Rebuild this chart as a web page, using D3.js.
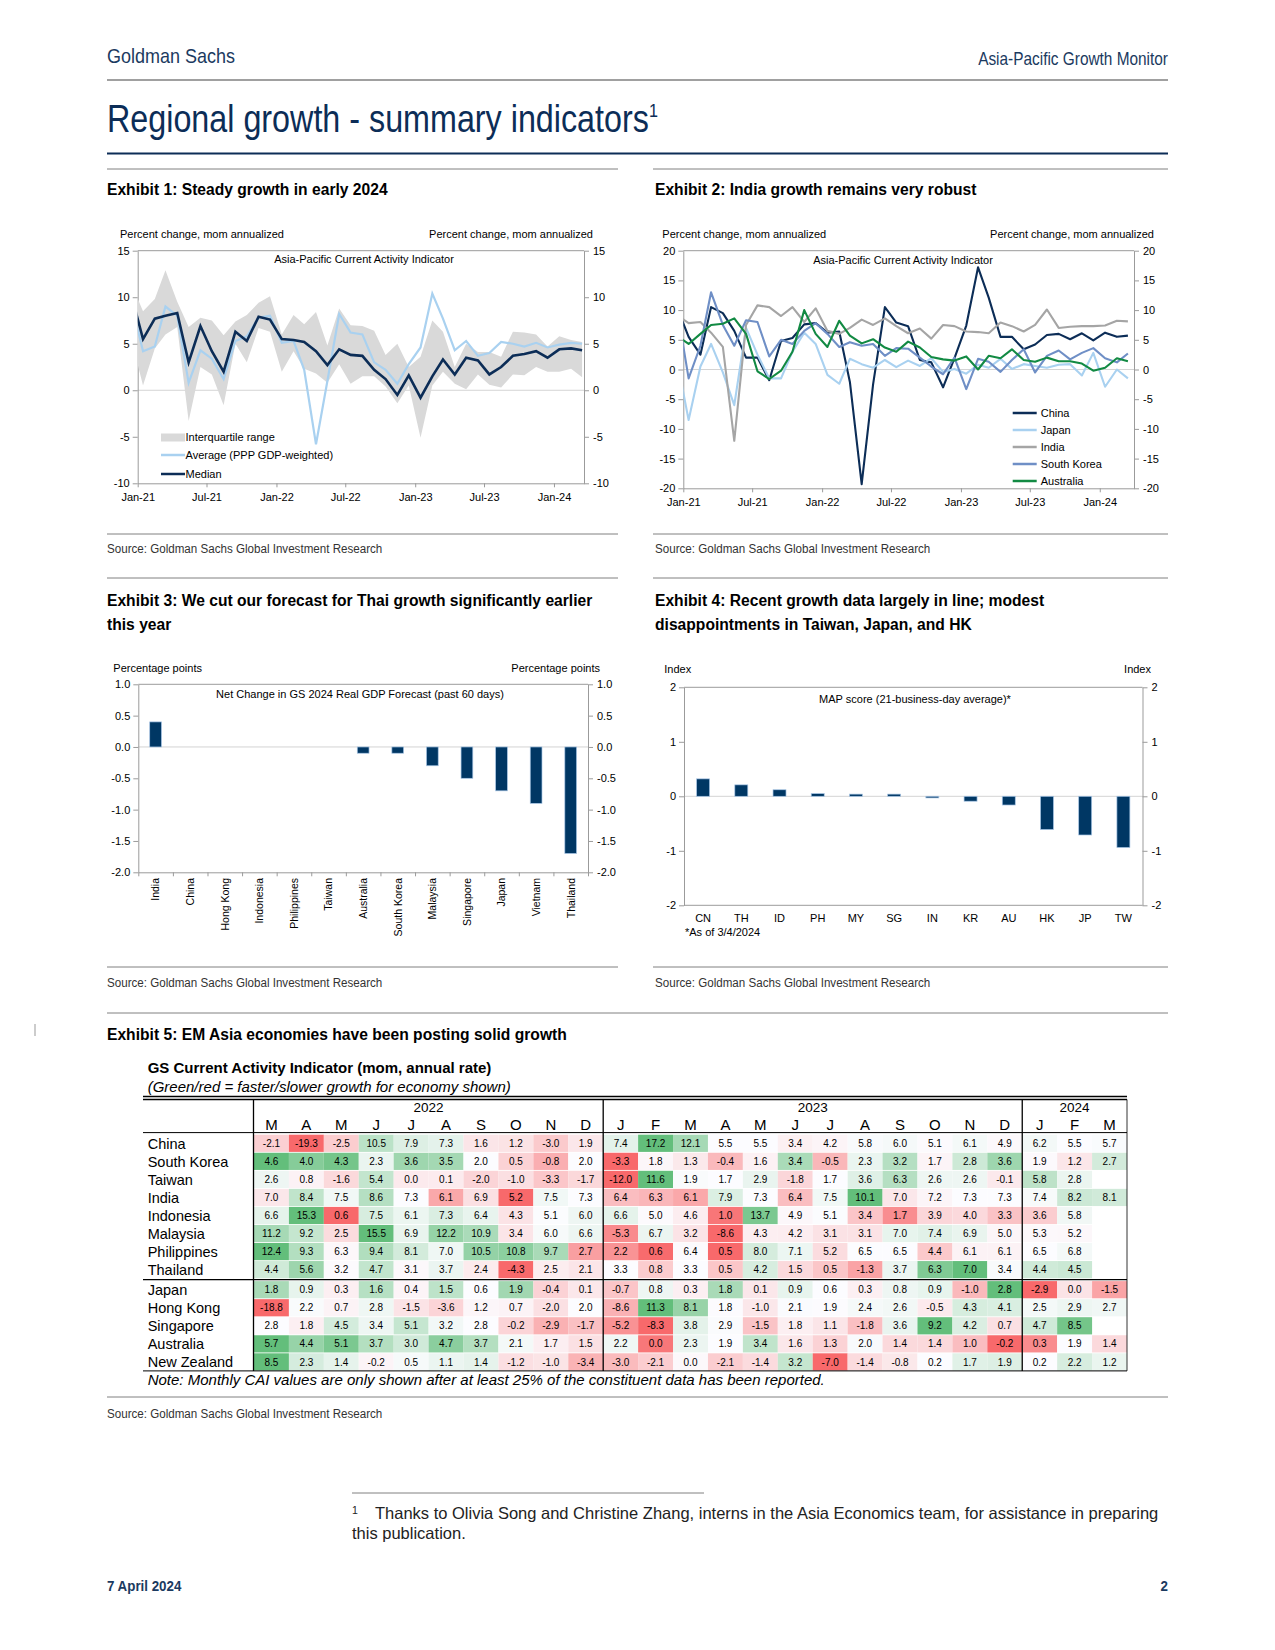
<!DOCTYPE html>
<html>
<head>
<meta charset="utf-8">
<title>Asia-Pacific Growth Monitor</title>
<script src="https://cdnjs.cloudflare.com/ajax/libs/d3/7.8.5/d3.min.js"></script>
<style>
  body { margin: 0; background: #fff; }
  svg text { font-family: "Liberation Sans", Arial, sans-serif; }
  .axis path, .axis line { stroke: #9b9b9b; }
  .axis text { font-size: 11px; fill: #000; }
</style>
</head>
<body>
<svg id="page" width="1275" height="1650"></svg>
<script>
// Exhibit 1 - Asia-Pacific CAI (Dec-20 .. Mar-24; Dec-20 only feeds the clipped first segment)
const caiDates = d3.timeMonth.range(new Date(2020, 11, 1), new Date(2024, 3, 1)).map(d => d3.timeDay.offset(d, 14));
const apMedian = [10.3, 5.5, 7.7, 8.0, 8.3, 3.0, 6.9, 4.2, 2.0, 6.3, 5.3, 7.9, 7.6, 5.5, 5.4, 5.2, 4.2, 2.7, 4.4, 3.8, 3.7,
  2.2, 1.2, -0.5, 1.6, -0.8, 1.5, 3.3, 1.7, 3.5, 3.2, 1.7, 2.5, 3.7, 3.9, 4.2, 3.5, 4.4, 4.5, 4.3];
const apAverage = [9.4, 4.2, 4.7, 9.0, 8.0, 0.8, 4.3, 3.4, 1.2, 5.3, 5.8, 7.8, 8.0, 5.1, 5.3, 2.2, -5.8, 1.0, 8.2, 6.2, 6.0,
  3.0, 2.2, 0.7, 2.8, 4.6, 10.4, 7.7, 4.3, 5.3, 3.7, 4.0, 5.2, 5.0, 4.7, 5.1, 4.6, 4.9, 5.1, 5.0];
const apIqrHigh = [11.5, 8.5, 9.8, 12.9, 9.5, 6.8, 7.8, 7.5, 5.9, 7.4, 8.1, 9.4, 10.1, 6.0, 8.1, 7.1, 8.4, 4.8, 8.8, 7.0, 6.9,
  6.4, 3.8, 5.0, 2.5, 3.6, 7.5, 6.3, 2.5, 5.0, 4.1, 4.1, 3.6, 6.3, 6.2, 6.0, 4.7, 5.8, 5.4, 5.2];
const apIqrLow = [5.5, 0.5, 4.5, 6.0, 6.8, -3.3, 2.5, 1.7, -1.6, 5.0, 3.0, 6.7, 6.3, 2.0, 4.2, 2.3, 1.8, 0.8, 2.8, 0.7, 1.5,
  1.5, 0.4, -1.4, 0.5, -5.1, 0.5, 2.0, 0.7, 0.1, 1.7, 0.6, 0.3, 1.7, 1.6, 2.5, 2.0, 2.0, 2.3, 1.4];

// Exhibit 5 - CAI table, Mar-22 .. Mar-24
const caiCountries = ['China', 'South Korea', 'Taiwan', 'India', 'Indonesia', 'Malaysia', 'Philippines', 'Thailand',
  'Japan', 'Hong Kong', 'Singapore', 'Australia', 'New Zealand'];
const caiMonths = ['M', 'A', 'M', 'J', 'J', 'A', 'S', 'O', 'N', 'D', 'J', 'F', 'M', 'A', 'M', 'J', 'J', 'A', 'S', 'O', 'N', 'D', 'J', 'F', 'M'];
const caiYears = ['2022', '2023', '2024'];
const caiYearMonths = [10, 12, 3];
const caiTable = [
  [-2.1, -19.3, -2.5, 10.5, 7.9, 7.3, 1.6, 1.2, -3.0, 1.9, 7.4, 17.2, 12.1, 5.5, 5.5, 3.4, 4.2, 5.8, 6.0, 5.1, 6.1, 4.9, 6.2, 5.5, 5.7],
  [4.6, 4.0, 4.3, 2.3, 3.6, 3.5, 2.0, 0.5, -0.8, 2.0, -3.3, 1.8, 1.3, -0.4, 1.6, 3.4, -0.5, 2.3, 3.2, 1.7, 2.8, 3.6, 1.9, 1.2, 2.7],
  [2.6, 0.8, -1.6, 5.4, 0.0, 0.1, -2.0, -1.0, -3.3, -1.7, -12.0, 11.6, 1.9, 1.7, 2.9, -1.8, 1.7, 3.6, 6.3, 2.6, 2.6, -0.1, 5.8, 2.8, null],
  [7.0, 8.4, 7.5, 8.6, 7.3, 6.1, 6.9, 5.2, 7.5, 7.3, 6.4, 6.3, 6.1, 7.9, 7.3, 6.4, 7.5, 10.1, 7.0, 7.2, 7.3, 7.3, 7.4, 8.2, 8.1],
  [6.6, 15.3, 0.6, 7.5, 6.1, 7.3, 6.4, 4.3, 5.1, 6.0, 6.6, 5.0, 4.6, 1.0, 13.7, 4.9, 5.1, 3.4, 1.7, 3.9, 4.0, 3.3, 3.6, 5.8, null],
  [11.2, 9.2, 2.5, 15.5, 6.9, 12.2, 10.9, 3.4, 6.0, 6.6, -5.3, 6.7, 3.2, -8.6, 4.3, 4.2, 3.1, 3.1, 7.0, 7.4, 6.9, 5.0, 5.3, 5.2, null],
  [12.4, 9.3, 6.3, 9.4, 8.1, 7.0, 10.5, 10.8, 9.7, 2.7, 2.2, 0.6, 6.4, 0.5, 8.0, 7.1, 5.2, 6.5, 6.5, 4.4, 6.1, 6.1, 6.5, 6.8, null],
  [4.4, 5.6, 3.2, 4.7, 3.1, 3.7, 2.4, -4.3, 2.5, 2.1, 3.3, 0.8, 3.3, 0.5, 4.2, 1.5, 0.5, -1.3, 3.7, 6.3, 7.0, 3.4, 4.4, 4.5, null],
  [1.8, 0.9, 0.3, 1.6, 0.4, 1.5, 0.6, 1.9, -0.4, 0.1, -0.7, 0.8, 0.3, 1.8, 0.1, 0.9, 0.6, 0.3, 0.8, 0.9, -1.0, 2.8, -2.9, 0.0, -1.5],
  [-18.8, 2.2, 0.7, 2.8, -1.5, -3.6, 1.2, 0.7, -2.0, 2.0, -8.6, 11.3, 8.1, 1.8, -1.0, 2.1, 1.9, 2.4, 2.6, -0.5, 4.3, 4.1, 2.5, 2.9, 2.7],
  [2.8, 1.8, 4.5, 3.4, 5.1, 3.2, 2.8, -0.2, -2.9, -1.7, -5.2, -8.3, 3.8, 2.9, -1.5, 1.8, 1.1, -1.8, 3.6, 9.2, 4.2, 0.7, 4.7, 8.5, null],
  [5.7, 4.4, 5.1, 3.7, 3.0, 4.7, 3.7, 2.1, 1.7, 1.5, 2.2, 0.0, 2.3, 1.9, 3.4, 1.6, 1.3, 2.0, 1.4, 1.4, 1.0, -0.2, 0.3, 1.9, 1.4],
  [8.5, 2.3, 1.4, -0.2, 0.5, 1.1, 1.4, -1.2, -1.0, -3.4, -3.0, -2.1, 0.0, -2.1, -1.4, 3.2, -7.0, -1.4, -0.8, 0.2, 1.7, 1.9, 0.2, 2.2, 1.2]
];
const caiFirstGroup = 8; // EM Asia rows, then the rest

// Exhibit 2 - country CAIs, Dec-20 .. Feb-22, later months are the table rows
const cnEarly = [10.5, 5.5, 2.5, 10.5, 9.5, 6.5, 2.0, 2.0, -1.8, 4.8, 5.3, 7.6, 7.8, 6.2, 6.4];
const jpEarly = [1.7, -8.5, 0.5, 4.3, -0.5, -6.0, 7.0, 2.5, -1.5, -1.5, 3.0, 6.2, 4.3, -0.9, -2.4];
const inEarly = [9.2, 7.8, 8.0, 6.2, 3.8, -12.0, 7.5, 10.8, 10.5, 9.0, 10.5, 8.0, 10.3, 6.5, 6.0];
const krEarly = [10.5, -1.5, 4.0, 13.0, 7.5, 4.0, 8.3, 8.0, 2.2, 5.0, 4.3, 6.5, 7.8, 6.0, 3.8];
const auEarly = [5.7, 4.3, 6.0, 7.5, 7.7, 8.6, 6.0, -0.3, -1.6, -0.2, 3.0, 10.0, 6.0, 3.8, 8.2];
const ex2Names = ['China', 'Japan', 'India', 'South Korea', 'Australia'];
const ex2Early = [cnEarly, jpEarly, inEarly, krEarly, auEarly];
const ex2Colors = ['#0c2d57', '#a9d1f0', '#a5a5a5', '#6f8fc6', '#128a43'];

// Exhibit 3 - net change in 2024 GDP forecast, pp
const fcstCountries = ['India', 'China', 'Hong Kong', 'Indonesia', 'Philippines', 'Taiwan', 'Australia', 'South Korea',
  'Malaysia', 'Singapore', 'Japan', 'Vietnam', 'Thailand'];
const fcstChange = [0.4, 0, 0, 0, 0, 0, -0.1, -0.1, -0.3, -0.5, -0.7, -0.9, -1.7];

// Exhibit 4 - MAP score
const mapCodes = ['CN', 'TH', 'ID', 'PH', 'MY', 'SG', 'IN', 'KR', 'AU', 'HK', 'JP', 'TW'];
const mapScore = [0.32, 0.21, 0.12, 0.05, 0.04, 0.04, -0.03, -0.09, -0.16, -0.61, -0.71, -0.94];

const svg = d3.select('#page');
const NAVY = '#0c2d57';
const BAR = '#003764';
const RULE = '#808080';
const hy = d3.formatLocale({decimal: '.', thousands: ',', grouping: [3], currency: ['', ''], minus: '-'});

function rule(x1, x2, y, color, w) {
  svg.append('line').attr('x1', x1).attr('x2', x2).attr('y1', y).attr('y2', y)
    .attr('stroke', color || RULE).attr('stroke-width', w || 1);
}
// o.sx squeezes the text horizontally (house style is a condensed face)
function label(x, y, str, size, o = {}) {
  const t = svg.append('text').text(str)
    .attr('font-size', size)
    .attr('text-anchor', o.anchor || 'start')
    .attr('font-weight', o.bold ? 'bold' : null)
    .attr('font-style', o.italic ? 'italic' : null)
    .style('fill', o.fill || '#000');
  if (o.sx) t.attr('transform', `translate(${x},${y}) scale(${o.sx},1)`);
  else t.attr('x', x).attr('y', y);
  return t;
}
const HEAD = {sx: 0.92, bold: true};
const SRC = {sx: 0.86, fill: '#333'};

// ---------- page furniture
label(107, 63, 'Goldman Sachs', 20, {sx: 0.9, fill: '#1b3a60'});
label(1168, 65, 'Asia-Pacific Growth Monitor', 17.5, {sx: 0.88, anchor: 'end', fill: '#1b3a60'});
rule(107, 1168, 80, RULE, 1.5);
const title = label(107, 132, 'Regional growth - summary indicators', 38, {sx: 0.85, fill: NAVY});
title.append('tspan').attr('font-size', 19).attr('dy', -15).text('1');
rule(107, 1168, 153.5, NAVY, 2);

[[107, 618], [653, 1168]].forEach(([a, b]) => {
  rule(a, b, 169); rule(a, b, 534); rule(a, b, 578); rule(a, b, 967);
});
label(107, 195, 'Exhibit 1: Steady growth in early 2024', 17, HEAD);
label(655, 195, 'Exhibit 2: India growth remains very robust', 17, HEAD);
label(107, 606, 'Exhibit 3: We cut our forecast for Thai growth significantly earlier', 17, HEAD);
label(107, 630, 'this year', 17, HEAD);
label(655, 606, 'Exhibit 4: Recent growth data largely in line; modest', 17, HEAD);
label(655, 630, 'disappointments in Taiwan, Japan, and HK', 17, HEAD);
const src = 'Source: Goldman Sachs Global Investment Research';
label(107, 553, src, 13.5, SRC);
label(655, 553, src, 13.5, SRC);
label(107, 987, src, 13.5, SRC);
label(655, 987, src, 13.5, SRC);
rule(107, 1168, 1013);
label(107, 1040, 'Exhibit 5: EM Asia economies have been posting solid growth', 17, HEAD);
rule(107, 1168, 1397);
label(107, 1418, src, 13.5, SRC);
svg.append('line').attr('x1', 35).attr('x2', 35).attr('y1', 1024).attr('y2', 1036).attr('stroke', '#999');

rule(352, 704, 1493, RULE, 1);
label(352, 1514, '1', 10.5, {fill: '#222'});
label(375, 1519, 'Thanks to Olivia Song and Christine Zhang, interns in the Asia Economics team, for assistance in preparing', 16.5, {fill: '#222'});
label(352, 1539, 'this publication.', 16.5, {fill: '#222'});
label(107, 1591, '7 April 2024', 14.5, {sx: 0.92, bold: true, fill: '#1b3a60'});
label(1168, 1591, '2', 14.5, {sx: 0.92, bold: true, anchor: 'end', fill: '#1b3a60'});

// ---------- time-series panels (Exhibits 1 and 2)
function framePanel(id, box, y, leftAxis, rightAxis) {
  svg.append('defs').append('clipPath').attr('id', id)
    .append('rect').attr('x', box.left).attr('y', box.top)
    .attr('width', box.right - box.left).attr('height', box.bottom - box.top);
  svg.append('line').attr('x1', box.left).attr('x2', box.right)
    .attr('y1', y(0)).attr('y2', y(0)).attr('stroke', '#d4d4d4');
  svg.append('line').attr('x1', box.left).attr('x2', box.right)
    .attr('y1', box.top).attr('y2', box.top).attr('stroke', '#9b9b9b');
  svg.append('g').attr('class', 'axis').attr('transform', `translate(${box.left},0)`).call(leftAxis);
  svg.append('g').attr('class', 'axis').attr('transform', `translate(${box.right},0)`).call(rightAxis);
}

function timePanel(id, box, yDomain, yTicks, end) {
  const x = d3.scaleTime().domain([new Date(2021, 0, 1), end]).range([box.left, box.right]);
  const y = d3.scaleLinear().domain(yDomain).range([box.bottom, box.top]);
  const f = hy.format('d');
  framePanel(id, box, y,
    d3.axisLeft(y).tickValues(yTicks).tickFormat(f).tickSize(5).tickPadding(3).tickSizeOuter(0),
    d3.axisRight(y).tickValues(yTicks).tickFormat(f).tickSize(5).tickPadding(4).tickSizeOuter(0));
  svg.append('g').attr('class', 'axis').attr('transform', `translate(0,${box.bottom})`)
    .call(d3.axisBottom(x).ticks(d3.timeMonth.every(6)).tickFormat(d3.timeFormat('%b-%y'))
      .tickSize(4).tickPadding(6).tickSizeOuter(0));
  return {x, y};
}

// Exhibit 1
const b1 = {left: 137.7, right: 584, top: 250.7, bottom: 483.3};
const p1 = timePanel('clip1', b1, [-10, 15], [-10, -5, 0, 5, 10, 15], new Date(2024, 2, 20));
const ex1 = caiDates.map((d, i) => ({date: d, med: apMedian[i], avg: apAverage[i], hi: apIqrHigh[i], lo: apIqrLow[i]}));
const g1 = svg.append('g').attr('clip-path', 'url(#clip1)');
g1.append('path').datum(ex1).attr('fill', '#d9d9d9')
  .attr('d', d3.area().x(d => p1.x(d.date)).y0(d => p1.y(d.lo)).y1(d => p1.y(d.hi)));
g1.append('path').datum(ex1).attr('fill', 'none').attr('stroke', '#a9d1f0').attr('stroke-width', 2.2)
  .attr('d', d3.line().x(d => p1.x(d.date)).y(d => p1.y(d.avg)));
g1.append('path').datum(ex1).attr('fill', 'none').attr('stroke', NAVY).attr('stroke-width', 2.6)
  .attr('d', d3.line().x(d => p1.x(d.date)).y(d => p1.y(d.med)));
label(120, 238, 'Percent change, mom annualized', 11);
label(593, 238, 'Percent change, mom annualized', 11, {anchor: 'end'});
label(364, 263, 'Asia-Pacific Current Activity Indicator', 11, {anchor: 'middle'});
svg.append('rect').attr('x', 161).attr('y', 433.5).attr('width', 24).attr('height', 8).attr('fill', '#d9d9d9');
label(185.5, 441, 'Interquartile range', 11);
svg.append('line').attr('x1', 161).attr('x2', 185).attr('y1', 455).attr('y2', 455).attr('stroke', '#a9d1f0').attr('stroke-width', 2.5);
label(185.5, 458.5, 'Average (PPP GDP-weighted)', 11);
svg.append('line').attr('x1', 161).attr('x2', 185).attr('y1', 474).attr('y2', 474).attr('stroke', NAVY).attr('stroke-width', 2.5);
label(185.5, 477.5, 'Median', 11);

// Exhibit 2
const b2 = {left: 683.3, right: 1134, top: 250.7, bottom: 488.3};
const p2 = timePanel('clip2', b2, [-20, 20], d3.range(-20, 21, 5), new Date(2024, 2, 31));
const g2 = svg.append('g').attr('clip-path', 'url(#clip2)');
ex2Names.forEach((name, k) => {
  const vals = ex2Early[k].concat(caiTable[caiCountries.indexOf(name)]);
  g2.append('path').datum(caiDates.map((d, i) => [d, vals[i]]))
    .attr('fill', 'none').attr('stroke', ex2Colors[k]).attr('stroke-width', 2.1)
    .attr('stroke-linejoin', 'round')
    .attr('d', d3.line().x(d => p2.x(d[0])).y(d => p2.y(d[1])));
  const ly = 413 + k * 17;
  svg.append('line').attr('x1', 1012.7).attr('x2', 1036.7).attr('y1', ly).attr('y2', ly)
    .attr('stroke', ex2Colors[k]).attr('stroke-width', 2.5);
  label(1040.7, ly + 4, name, 11);
});
label(662.3, 238, 'Percent change, mom annualized', 11);
label(1154, 238, 'Percent change, mom annualized', 11, {anchor: 'end'});
label(903, 264, 'Asia-Pacific Current Activity Indicator', 11, {anchor: 'middle'});

// ---------- bar panels (Exhibits 3 and 4)
function barPanel(id, box, cats, vals, yDomain, yTicks, fmt) {
  const x = d3.scaleBand().domain(cats).range([box.left, box.right]).paddingInner(0.66).paddingOuter(0.33);
  const y = d3.scaleLinear().domain(yDomain).range([box.bottom, box.top]);
  framePanel(id, box, y,
    d3.axisLeft(y).tickValues(yTicks).tickFormat(fmt).tickSize(5).tickPadding(3).tickSizeOuter(0),
    d3.axisRight(y).tickValues(yTicks).tickFormat(fmt).tickSize(5).tickPadding(4).tickSizeOuter(0));
  svg.append('g').selectAll('rect').data(cats).join('rect')
    .attr('x', d => x(d)).attr('width', x.bandwidth())
    .attr('y', (d, i) => y(Math.max(0, vals[i])))
    .attr('height', (d, i) => Math.abs(y(vals[i]) - y(0)))
    .attr('fill', BAR).attr('stroke', '#a8c6e6').attr('stroke-width', 0.7);
  return {x, y};
}

// Exhibit 3
const b3 = {left: 138.3, right: 588, top: 684.3, bottom: 872.3};
const p3 = barPanel('clip3', b3, fcstCountries, fcstChange, [-2, 1], d3.range(-2, 1.01, 0.5), hy.format('.1f'));
const slots3 = d3.scaleLinear().domain([0, fcstCountries.length]).range([b3.left, b3.right]);
svg.append('g').attr('class', 'axis').attr('transform', `translate(0,${b3.bottom})`)
  .call(d3.axisBottom(slots3).tickValues(d3.range(fcstCountries.length + 1)).tickFormat('').tickSize(4).tickSizeOuter(0));
svg.append('g').selectAll('text').data(fcstCountries).join('text')
  .attr('transform', d => `translate(${p3.x(d) + p3.x.bandwidth() / 2 + 3.8},878) rotate(-90)`)
  .attr('text-anchor', 'end').attr('font-size', 10.5).text(d => d);
label(113.3, 672.3, 'Percentage points', 11);
label(600, 672.3, 'Percentage points', 11, {anchor: 'end'});
label(360, 698.3, 'Net Change in GS 2024 Real GDP Forecast (past 60 days)', 11, {anchor: 'middle'});

// Exhibit 4
const b4 = {left: 684, right: 1142.5, top: 687.3, bottom: 905.3};
const p4 = barPanel('clip4', b4, mapCodes, mapScore, [-2, 2], [-2, -1, 0, 1, 2], hy.format('d'));
svg.append('line').attr('x1', b4.left).attr('x2', b4.right).attr('y1', b4.bottom).attr('y2', b4.bottom).attr('stroke', '#9b9b9b');
svg.append('g').selectAll('text').data(mapCodes).join('text')
  .attr('x', d => p4.x(d) + p4.x.bandwidth() / 2).attr('y', 922)
  .attr('text-anchor', 'middle').attr('font-size', 11).text(d => d);
label(664.3, 672.7, 'Index', 11);
label(1151, 672.7, 'Index', 11, {anchor: 'end'});
label(915, 703.3, 'MAP score (21-business-day average)*', 11, {anchor: 'middle'});
label(685, 936, '*As of 3/4/2024', 11);

// ---------- Exhibit 5 table
const tLeft = 143, tRight = 1127;
label(147.7, 1073.3, 'GS Current Activity Indicator (mom, annual rate)', 15, {bold: true});
label(147.7, 1091.7, '(Green/red = faster/slower growth for economy shown)', 15, {italic: true});
const colX = d3.scaleBand().domain(d3.range(caiMonths.length)).range([254, tRight]);
const rowStep = d3.scaleLinear().domain([0, caiCountries.length - 1]).range([1143.3, 1359.9]);
const rowY = r => rowStep(r) + (r >= caiFirstGroup ? 2 : 0);
const tBottom = rowY(caiCountries.length - 1) + 9;
const tg = svg.append('g');
const numFmt = hy.format('.1f');

caiTable.forEach((row, r) => {
  const vals = row.filter(v => v !== null);
  const sorted = vals.slice().sort(d3.ascending);
  const color = d3.scaleLinear()
    .domain([sorted[0], d3.quantile(sorted, 0.5), sorted[sorted.length - 1]])
    .range(['#f8696b', '#fcfcff', '#63be7b']);
  const cy = rowY(r);
  const cells = tg.append('g').selectAll('g').data(row.map((v, i) => ({v, i})).filter(d => d.v !== null)).join('g');
  cells.append('rect').attr('x', d => colX(d.i)).attr('y', cy - 8.6)
    .attr('width', colX.bandwidth()).attr('height', 17.2).attr('fill', d => color(d.v));
  cells.append('text').attr('x', d => colX(d.i) + colX.bandwidth() / 2).attr('y', cy + 3.6)
    .attr('text-anchor', 'middle').attr('font-size', 10).text(d => numFmt(d.v));
  label(147.7, cy + 5.2, caiCountries[r], 14.5);
});

tg.append('g').selectAll('text').data(caiMonths).join('text')
  .attr('x', (d, i) => colX(i) + colX.bandwidth() / 2).attr('y', 1130)
  .attr('text-anchor', 'middle').attr('font-size', 15).text(d => d);
const yearStart = d3.cumsum([0].concat(caiYearMonths));
caiYears.forEach((yr, k) => {
  const a = colX(yearStart[k]);
  const b = colX(yearStart[k + 1] - 1) + colX.bandwidth();
  label((a + b) / 2, 1111.5, yr, 13.5, {anchor: 'middle'});
  tg.append('line').attr('x1', b).attr('x2', b).attr('y1', 1099.5).attr('y2', tBottom)
    .attr('stroke', '#000').attr('stroke-width', k === caiYears.length - 1 ? 0.8 : 1.3);
});
tg.append('line').attr('x1', 253.5).attr('x2', 253.5).attr('y1', 1099.5).attr('y2', tBottom).attr('stroke', '#000').attr('stroke-width', 1.3);
[[1096.5, 1.3], [1099.5, 1.3], [1132.6, 1], [(rowY(caiFirstGroup - 1) + rowY(caiFirstGroup)) / 2, 1.3], [tBottom, 1]]
  .forEach(([y, w]) => tg.append('line').attr('x1', tLeft).attr('x2', tRight).attr('y1', y).attr('y2', y)
    .attr('stroke', '#000').attr('stroke-width', w));
label(147.7, 1385, 'Note: Monthly CAI values are only shown after at least 25% of the constituent data has been reported.', 15, {italic: true});
</script>
</body>
</html>
